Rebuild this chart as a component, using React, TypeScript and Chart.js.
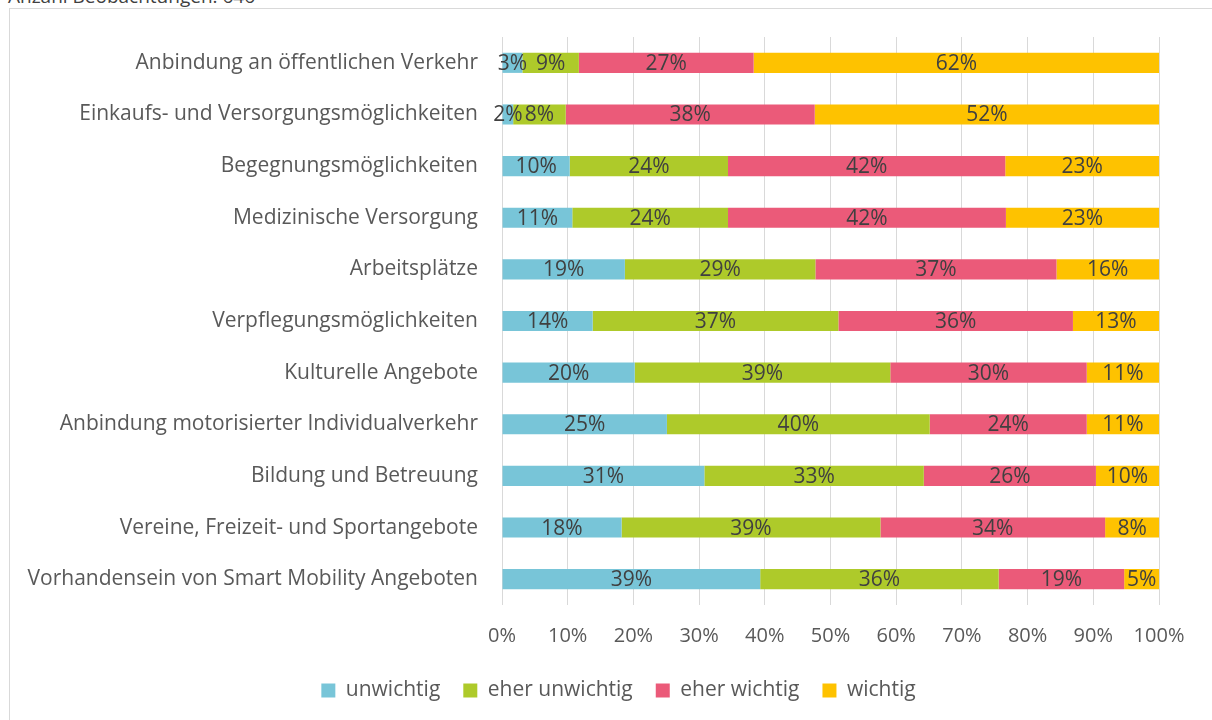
import React, { useEffect, useRef } from "react";
import { Chart, registerables } from "chart.js";

Chart.register(...registerables);

const categories = [
  "Anbindung an öffentlichen Verkehr",
  "Einkaufs- und Versorgungsmöglichkeiten",
  "Begegnungsmöglichkeiten",
  "Medizinische Versorgung",
  "Arbeitsplätze",
  "Verpflegungsmöglichkeiten",
  "Kulturelle Angebote",
  "Anbindung motorisierter Individualverkehr",
  "Bildung und Betreuung",
  "Vereine, Freizeit- und Sportangebote",
  "Vorhandensein von Smart Mobility Angeboten",
];

const unwichtig = [3.1, 1.7, 10.3, 10.7, 18.7, 13.8, 20.2, 25.1, 30.8, 18.2, 39.3];
const eherUnwichtig = [8.6, 8.0, 24.1, 23.7, 29.0, 37.4, 38.9, 40.0, 33.4, 39.4, 36.3];
const eherWichtig = [26.6, 37.9, 42.2, 42.3, 36.7, 35.7, 29.9, 23.9, 26.2, 34.2, 19.1];
const wichtig = [61.7, 52.4, 23.4, 23.3, 15.6, 13.1, 11.0, 11.0, 9.6, 8.2, 5.3];

const seriesNames = ["unwichtig", "eher unwichtig", "eher wichtig", "wichtig"];
const seriesColors = ["#78C5D8", "#AECA2A", "#EB5A79", "#FEC200"];

const titleText = "Anzahl Beobachtungen: 646";
const FONT = "'Open Sans', sans-serif";
const FS = 21;

const labelPlugin = {
  id: "segLabels",
  afterDatasetsDraw(chart: any) {
    const ctx = chart.ctx;
    ctx.save();
    ctx.font = `${FS}px ${FONT}`;
    ctx.fillStyle = "#404040";
    ctx.textAlign = "center";
    ctx.textBaseline = "middle";
    chart.data.datasets.forEach((ds: any, di: number) => {
      const meta = chart.getDatasetMeta(di);
      meta.data.forEach((el: any, i: number) => {
        const v = ds.data[i];
        const cx = (el.x + el.base) / 2;
        ctx.fillText(Math.round(v) + "%", cx, el.y + 1);
      });
    });
    ctx.restore();
  },
};

const legendShift = {
  id: "legendShift",
  afterLayout(chart: any) {
    const lg = chart.legend;
    if (lg) {
      lg.left += 34;
      lg.right += 34;
    }
  },
};

export default function App() {
  const ref = useRef<HTMLCanvasElement>(null);
  useEffect(() => {
    if (!ref.current) return;
    const data = [unwichtig, eherUnwichtig, eherWichtig, wichtig];
    const chart = new Chart(ref.current, {
      type: "bar",
      data: {
        labels: categories,
        datasets: data.map((d, i) => ({
          label: seriesNames[i],
          data: d,
          backgroundColor: seriesColors[i],
          borderWidth: 0,
          barPercentage: 0.39,
          categoryPercentage: 1,
        })),
      },
      options: {
        indexAxis: "y",
        responsive: false,
        animation: false,
        layout: { padding: { top: 28, bottom: 9, left: 0, right: 53 } },
        plugins: {
          tooltip: { enabled: false },
          legend: {
            position: "bottom",
            labels: {
              boxWidth: 14,
              boxHeight: 14,
              padding: 23,
              color: "#595959",
              font: { family: FONT, size: FS },
            },
          },
        },
        scales: {
          x: {
            stacked: true,
            min: 0,
            max: 100,
            border: { display: false },
            grid: { color: "#D9D9D9", lineWidth: 1, drawTicks: false },
            ticks: {
              stepSize: 10,
              padding: 19,
              color: "#595959",
              font: { family: FONT, size: 20 },
              callback: (v: any) => v + "%",
            },
            afterFit: (s: any) => {
              s.height = 52;
              s.paddingLeft = 0;
              s.paddingRight = 0;
            },
          },
          y: {
            stacked: true,
            border: { display: false },
            grid: { display: false, drawTicks: false },
            ticks: {
              padding: 24,
              color: "#595959",
              font: { family: FONT, size: FS },
            },
            afterFit: (s: any) => {
              s.width = 492;
              s.paddingTop = 0;
              s.paddingBottom = 0;
            },
          },
        },
      },
      plugins: [labelPlugin, legendShift],
    });
    return () => chart.destroy();
  }, []);

  return (
    <div style={{ position: "fixed", left: 0, top: 0, width: 1212, height: 720, overflow: "hidden", background: "#fff" }}>
      <div
        style={{
          position: "absolute",
          left: 8,
          top: -14,
          fontFamily: FONT,
          fontSize: 19,
          lineHeight: "20px",
          color: "#404040",
          whiteSpace: "nowrap",
        }}
      >
        {titleText}
      </div>
      <div
        style={{
          position: "absolute",
          left: 9,
          top: 8,
          width: 1300,
          height: 800,
          border: "1px solid #D9D9D9",
        }}
      />
      <canvas
        ref={ref}
        width={1202}
        height={711}
        style={{ position: "absolute", left: 10, top: 9, display: "block" }}
      />
    </div>
  );
}
